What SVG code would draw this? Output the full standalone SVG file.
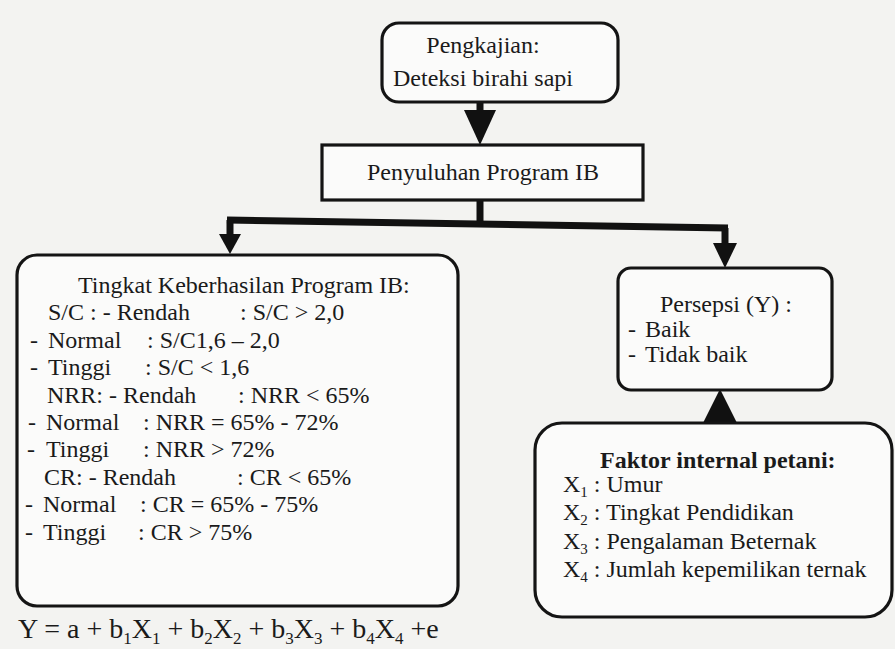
<svg xmlns="http://www.w3.org/2000/svg" width="895" height="649" viewBox="0 0 895 649">
<style>
text{font-family:"Liberation Serif","Times New Roman",serif;fill:#1a1a1a;font-size:24px}
.box{fill:#fbfbfa;stroke:#141414;stroke-width:3.2}
.ln{stroke:#111;stroke-width:7;fill:none}
.hd{fill:#111}
.c{text-anchor:middle}
.b{font-weight:bold}
.eq{font-size:28px}
</style>
<rect x="0" y="0" width="895" height="649" fill="#f3f3f1"/>

<g id="connectors">
  <line class="ln" x1="480" y1="101" x2="480" y2="118"/>
  <polygon class="hd" points="464,110 496,110 480,145"/>
  <line class="ln" x1="480" y1="200" x2="480" y2="225"/>
  <line class="ln" x1="227" y1="220" x2="728" y2="228"/>
  <line class="ln" x1="230" y1="220" x2="230" y2="240"/>
  <polygon class="hd" points="219,234 241,234 230,254"/>
  <line class="ln" x1="725" y1="228" x2="725" y2="248"/>
  <polygon class="hd" points="713,243 737,243 725,268"/>
  <polygon class="hd" points="703,423 737,423 720,389"/>
</g>

<g id="node-pengkajian">
  <rect class="box" x="382" y="23" width="236" height="79" rx="17"/>
  <text class="c" x="483" y="53">Pengkajian:</text>
  <text class="c" x="483" y="86">Deteksi birahi sapi</text>
</g>

<g id="node-penyuluhan">
  <rect class="box" x="322" y="145" width="321" height="55"/>
  <text class="c" x="483" y="180">Penyuluhan Program IB</text>
</g>

<g id="node-tingkat">
  <rect class="box" x="17" y="255" width="441" height="351" rx="20"/>
  <text x="78" y="293">Tingkat Keberhasilan Program IB:</text>
  <text y="320"><tspan x="48">S/C : - Rendah</tspan><tspan x="240">: S/C &gt; 2,0</tspan></text>
  <text y="348"><tspan x="30">-</tspan><tspan x="48">Normal</tspan><tspan x="147">: S/C1,6 – 2,0</tspan></text>
  <text y="375"><tspan x="30">-</tspan><tspan x="48">Tinggi</tspan><tspan x="145">: S/C &lt; 1,6</tspan></text>
  <text y="403"><tspan x="47">NRR: - Rendah</tspan><tspan x="238">: NRR &lt; 65%</tspan></text>
  <text y="430"><tspan x="28">-</tspan><tspan x="46">Normal</tspan><tspan x="143">: NRR = 65% - 72%</tspan></text>
  <text y="457"><tspan x="27">-</tspan><tspan x="46">Tinggi</tspan><tspan x="143">: NRR &gt; 72%</tspan></text>
  <text y="485"><tspan x="44">CR: - Rendah</tspan><tspan x="237">: CR &lt; 65%</tspan></text>
  <text y="512"><tspan x="25">-</tspan><tspan x="43">Normal</tspan><tspan x="140">: CR = 65% - 75%</tspan></text>
  <text y="540"><tspan x="25">-</tspan><tspan x="43">Tinggi</tspan><tspan x="138">: CR &gt; 75%</tspan></text>
</g>

<g id="node-persepsi">
  <rect class="box" x="618" y="268" width="214" height="122" rx="13"/>
  <text x="660" y="312">Persepsi (Y) :</text>
  <text y="337"><tspan x="628">-</tspan><tspan x="645">Baik</tspan></text>
  <text y="362"><tspan x="628">-</tspan><tspan x="645">Tidak baik</tspan></text>
</g>

<g id="node-faktor">
  <rect class="box" x="535" y="423" width="357" height="194" rx="27"/>
  <text class="b" x="600" y="468">Faktor internal petani:</text>
  <text x="563" y="492">X<tspan dy="5" font-size="15">1</tspan><tspan dy="-5"> : Umur</tspan></text>
  <text x="563" y="520">X<tspan dy="5" font-size="15">2</tspan><tspan dy="-5"> : Tingkat Pendidikan</tspan></text>
  <text x="563" y="549">X<tspan dy="5" font-size="15">3</tspan><tspan dy="-5"> : Pengalaman Beternak</tspan></text>
  <text x="563" y="577">X<tspan dy="5" font-size="15">4</tspan><tspan dy="-5"> : Jumlah kepemilikan ternak</tspan></text>
</g>

<g id="equation">
  <text class="eq" x="18" y="638">Y = a + b<tspan dy="6" font-size="17">1</tspan><tspan dy="-6">X</tspan><tspan dy="6" font-size="17">1</tspan><tspan dy="-6"> + b</tspan><tspan dy="6" font-size="17">2</tspan><tspan dy="-6">X</tspan><tspan dy="6" font-size="17">2</tspan><tspan dy="-6"> + b</tspan><tspan dy="6" font-size="17">3</tspan><tspan dy="-6">X</tspan><tspan dy="6" font-size="17">3</tspan><tspan dy="-6"> + b</tspan><tspan dy="6" font-size="17">4</tspan><tspan dy="-6">X</tspan><tspan dy="6" font-size="17">4</tspan><tspan dy="-6"> +e</tspan></text>
</g>
</svg>
